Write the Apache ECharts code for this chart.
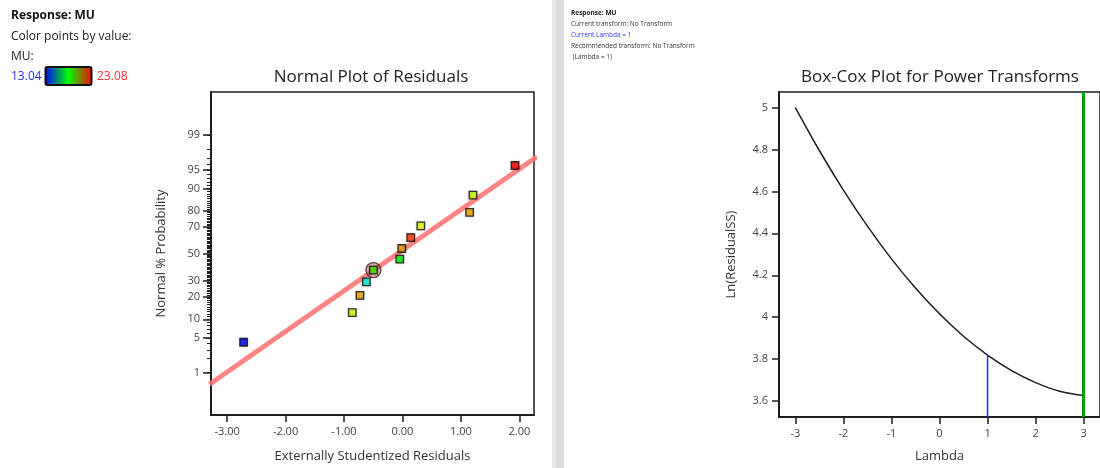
<!DOCTYPE html>
<html>
<head>
<meta charset="utf-8">
<title>Residual diagnostics – MU</title>
<script src="https://cdn.jsdelivr.net/npm/echarts@6/dist/echarts.min.js"></script>
<style>
  html, body { margin: 0; padding: 0; background: #ffffff; }
  #chart { width: 1100px; height: 468px; }
</style>
</head>
<body>
<div id="chart"></div>
<script>
// ---- Normal plot of residuals ----
// Externally studentized residuals, in rank order
const residuals = [-2.717, -0.858, -0.727, -0.617, -0.497, -0.046, -0.012, 0.142, 0.314, 1.149, 1.206, 1.926];
// Normal % probability of each ranked residual
const normalPct = [4.17, 12.5, 20.83, 29.17, 37.5, 45.83, 54.17, 62.5, 70.83, 79.17, 87.5, 95.83];
// Response value used to colour each point
const muValues = [13.04, 18.86, 21.0, 15.1, 17.66, 17.06, 21.1, 22.4, 19.1, 20.9, 18.8, 23.08];
const muRange = [13.04, 23.08];
// Reference line end points (residual, % probability)
const fitLineX = [-3.3, 2.3];
const fitLinePct = [0.53, 97.15];
// Highlighted run (rank index)
const highlightIndex = 4;
// Axis tick labels
const probTickLabels = [1, 5, 10, 20, 30, 50, 70, 80, 90, 95, 99];
const residualTicks = [-3, -2, -1, 0, 1, 2];

// ---- Box-Cox plot ----
const lambdaValues = [-3, -2.5, -2, -1.5, -1, -0.5, 0, 0.5, 1, 1.5, 2, 2.5, 3];
const lnResidualSS = [5.0, 4.795, 4.606, 4.434, 4.278, 4.139, 4.016, 3.909, 3.819, 3.745, 3.688, 3.647, 3.626];
const currentLambda = 1;
const bestLambda = 3;
const lambdaTicks = [-3, -2, -1, 0, 1, 2, 3];
const lnSSTicks = [3.6, 3.8, 4.0, 4.2, 4.4, 4.6, 4.8, 5.0];

// Inverse standard normal CDF (Acklam's rational approximation)
function probit(p) {
  const a = [-3.969683028665376e+01, 2.209460984245205e+02, -2.759285104469687e+02, 1.383577518672690e+02, -3.066479806614716e+01, 2.506628277459239e+00];
  const b = [-5.447609879822406e+01, 1.615858368580409e+02, -1.556989798598866e+02, 6.680131188771972e+01, -1.328068155288572e+01];
  const c = [-7.784894002430293e-03, -3.223964580411365e-01, -2.400758277161838e+00, -2.549732539343734e+00, 4.374664141464968e+00, 2.938163982698783e+00];
  const d = [7.784695709041462e-03, 3.224671290700398e-01, 2.445134137142996e+00, 3.754408661907416e+00];
  const plow = 0.02425, phigh = 1 - plow;
  let q, r;
  if (p < plow) {
    q = Math.sqrt(-2 * Math.log(p));
    return (((((c[0]*q+c[1])*q+c[2])*q+c[3])*q+c[4])*q+c[5]) / ((((d[0]*q+d[1])*q+d[2])*q+d[3])*q+1);
  }
  if (p <= phigh) {
    q = p - 0.5; r = q * q;
    return (((((a[0]*r+a[1])*r+a[2])*r+a[3])*r+a[4])*r+a[5])*q / (((((b[0]*r+b[1])*r+b[2])*r+b[3])*r+b[4])*r+1);
  }
  q = Math.sqrt(-2 * Math.log(1 - p));
  return -(((((c[0]*q+c[1])*q+c[2])*q+c[3])*q+c[4])*q+c[5]) / ((((d[0]*q+d[1])*q+d[2])*q+d[3])*q+1);
}
const pctToZ = pct => probit(pct / 100);

const FONT = '"Open Sans", "Noto Sans", "DejaVu Sans", sans-serif';
const AXIS_COLOR = '#1e1e1e';
const LABEL_COLOR = '#444';

const majorZ = probTickLabels.map(pctToZ);
const minorZ = [];
for (let p = 1; p <= 99; p++) minorZ.push(pctToZ(p));

const scatterData = residuals.map((x, i) => [x, pctToZ(normalPct[i]), muValues[i]]);
const fitData = fitLineX.map((x, i) => [x, pctToZ(fitLinePct[i])]);
const curveData = lambdaValues.map((l, i) => [l, lnResidualSS[i]]);
const lnAt = l => lnResidualSS[lambdaValues.indexOf(l)];

const chart = echarts.init(document.getElementById('chart'), null, { renderer: 'canvas' });

const tickLabelStyle = { color: LABEL_COLOR, fontFamily: FONT, fontSize: 11 };
const axisNameStyle = { color: '#333', fontFamily: FONT, fontSize: 13 };
const axisLineStyle = { onZero: false, lineStyle: { color: AXIS_COLOR, width: 2 } };

chart.setOption({
  animation: false,
  backgroundColor: '#ffffff',
  grid: [
    { left: 211, top: 92, width: 323, height: 323, show: true, borderColor: AXIS_COLOR, borderWidth: 1.5, backgroundColor: 'transparent' },
    { left: 779, top: 92, width: 325, height: 325, show: true, borderColor: AXIS_COLOR, borderWidth: 1.5, backgroundColor: 'transparent' }
  ],
  xAxis: [
    {
      gridIndex: 0, type: 'value', position: 'bottom', min: -3.275, max: 2.25,
      name: 'Externally Studentized Residuals', nameLocation: 'middle', nameGap: 35,
      nameTextStyle: axisNameStyle,
      axisLine: axisLineStyle,
      axisTick: { show: true, length: 7, customValues: residualTicks, lineStyle: { color: AXIS_COLOR, width: 1.5 } },
      axisLabel: { customValues: residualTicks, margin: 11, formatter: v => v.toFixed(2), ...tickLabelStyle },
      splitLine: { show: false }
    },
    {
      gridIndex: 1, type: 'value', position: 'bottom', min: -3.34, max: 3.34,
      name: 'Lambda', nameLocation: 'middle', nameGap: 33,
      nameTextStyle: axisNameStyle,
      axisLine: axisLineStyle,
      axisTick: { show: true, length: 7, customValues: lambdaTicks, lineStyle: { color: AXIS_COLOR, width: 1.5 } },
      axisLabel: { customValues: lambdaTicks, margin: 11, formatter: v => String(v), ...tickLabelStyle },
      splitLine: { show: false }
    }
  ],
  yAxis: [
    {
      gridIndex: 0, type: 'value', position: 'left', min: -3.157, max: 3.171,
      name: 'Normal % Probability', nameLocation: 'middle', nameGap: 43,
      nameTextStyle: axisNameStyle,
      axisLine: axisLineStyle,
      axisTick: { show: true, length: 8, customValues: majorZ, lineStyle: { color: AXIS_COLOR, width: 1.5 } },
      axisLabel: {
        customValues: majorZ, margin: 11, ...tickLabelStyle,
        formatter: v => {
          const i = majorZ.findIndex(z => Math.abs(z - v) < 1e-6);
          return i >= 0 ? String(probTickLabels[i]) : '';
        }
      },
      splitLine: { show: false }
    },
    {
      // minor probability ticks
      gridIndex: 0, type: 'value', position: 'left', min: -3.157, max: 3.171,
      axisLine: { show: false, onZero: false },
      axisTick: { show: true, length: 4, customValues: minorZ, lineStyle: { color: AXIS_COLOR, width: 1 } },
      axisLabel: { show: false },
      splitLine: { show: false }
    },
    {
      gridIndex: 1, type: 'value', position: 'left', min: 3.524, max: 5.074,
      name: 'Ln(ResidualSS)', nameLocation: 'middle', nameGap: 41,
      nameTextStyle: axisNameStyle,
      axisLine: axisLineStyle,
      axisTick: { show: true, length: 7, customValues: lnSSTicks, lineStyle: { color: AXIS_COLOR, width: 1.5 } },
      axisLabel: { customValues: lnSSTicks, margin: 11, formatter: v => String(Number(v.toFixed(1))), ...tickLabelStyle },
      splitLine: { show: false }
    }
  ],
  visualMap: {
    show: false, type: 'continuous', seriesIndex: 2, dimension: 2,
    min: muRange[0], max: muRange[1],
    inRange: { color: ['#0000ff', '#00f0e0', '#00ee00', '#f0ff00', '#f0a000', '#ff0000'] }
  },
  series: [
    {
      name: 'fit', type: 'line', xAxisIndex: 0, yAxisIndex: 0,
      data: fitData, showSymbol: false, clip: true, silent: true, z: 2,
      lineStyle: { color: 'rgba(255, 112, 112, 0.85)', width: 5 }
    },
    {
      name: 'highlight', type: 'scatter', xAxisIndex: 0, yAxisIndex: 0,
      data: [scatterData[highlightIndex]], symbol: 'circle', symbolSize: 15, z: 3,
      itemStyle: { color: 'rgba(190, 70, 70, 0.55)', borderColor: '#3a1c1c', borderWidth: 1.3 }
    },
    {
      name: 'residuals', type: 'scatter', xAxisIndex: 0, yAxisIndex: 0,
      data: scatterData, symbol: 'rect', symbolSize: 7.5, z: 4,
      itemStyle: { borderColor: '#111', borderWidth: 1.3, shadowBlur: 2, shadowColor: 'rgba(0,0,0,0.3)' }
    },
    {
      name: 'boxcox', type: 'line', xAxisIndex: 1, yAxisIndex: 2,
      data: curveData, smooth: 0.3, showSymbol: false,
      lineStyle: { color: '#1e1e1e', width: 1.5 },
      markLine: {
        silent: true, symbol: ['none', 'none'], label: { show: false },
        lineStyle: { color: '#00a000', width: 3, type: 'solid' },
        data: [{ xAxis: bestLambda }]
      }
    },
    {
      name: 'current', type: 'line', xAxisIndex: 1, yAxisIndex: 2,
      data: [[currentLambda, 3.524], [currentLambda, lnAt(currentLambda)]],
      showSymbol: false, lineStyle: { color: '#2a2aff', width: 1.5 }
    }
  ],
  graphic: [
    // panel divider
    { type: 'rect', shape: { x: 552, y: 0, width: 12, height: 468 }, style: { fill: '#dcdcdc' }, silent: true },
    { type: 'rect', shape: { x: 552, y: 0, width: 4, height: 468 }, style: { fill: '#e8e8e8' }, silent: true },

    // colour key
    { type: 'text', x: 11, y: 16, style: { text: 'Response: MU', font: 'bold 12px ' + FONT, fill: '#111', verticalAlign: 'middle' } },
    { type: 'text', x: 11, y: 37, style: { text: 'Color points by value:', font: '12px ' + FONT, fill: '#222', verticalAlign: 'middle' } },
    { type: 'text', x: 11, y: 57, style: { text: 'MU:', font: '12px ' + FONT, fill: '#222', verticalAlign: 'middle' } },
    { type: 'text', x: 11, y: 77, style: { text: muRange[0].toFixed(2), font: '12px ' + FONT, fill: '#2b2bff', verticalAlign: 'middle' } },
    {
      type: 'rect', shape: { x: 45.5, y: 67, width: 46, height: 18, r: 2 },
      style: {
        fill: new echarts.graphic.LinearGradient(0, 0, 1, 0, [
          { offset: 0, color: '#0000ff' },
          { offset: 0.5, color: '#00ff00' },
          { offset: 1, color: '#ff0000' }
        ]),
        stroke: '#111', lineWidth: 2
      }
    },
    { type: 'text', x: 97, y: 77, style: { text: muRange[1].toFixed(2), font: '12px ' + FONT, fill: '#ff3030', verticalAlign: 'middle' } },

    // transform summary
    { type: 'text', x: 571, y: 13, style: { text: 'Response: MU', font: 'bold 6.5px ' + FONT, fill: '#222', verticalAlign: 'middle' } },
    { type: 'text', x: 571, y: 24, style: { text: 'Current transform: No Transform', font: '6.5px ' + FONT, fill: '#333', verticalAlign: 'middle' } },
    { type: 'text', x: 571, y: 35.5, style: { text: 'Current Lambda = 1', font: '6.5px ' + FONT, fill: '#3333ff', verticalAlign: 'middle' } },
    { type: 'text', x: 571, y: 46.5, style: { text: 'Recommended transform: No Transform', font: '6.5px ' + FONT, fill: '#333', verticalAlign: 'middle' } },
    { type: 'text', x: 571, y: 57.5, style: { text: ' (Lambda = 1)', font: '6.5px ' + FONT, fill: '#333', verticalAlign: 'middle' } },

    // plot titles
    { type: 'text', x: 371, y: 77, style: { text: 'Normal Plot of Residuals', font: '17px ' + FONT, fill: '#222', align: 'center', verticalAlign: 'middle' } },
    { type: 'text', x: 940, y: 77, style: { text: 'Box-Cox Plot for Power Transforms', font: '17px ' + FONT, fill: '#222', align: 'center', verticalAlign: 'middle' } }
  ]
});
</script>
</body>
</html>
